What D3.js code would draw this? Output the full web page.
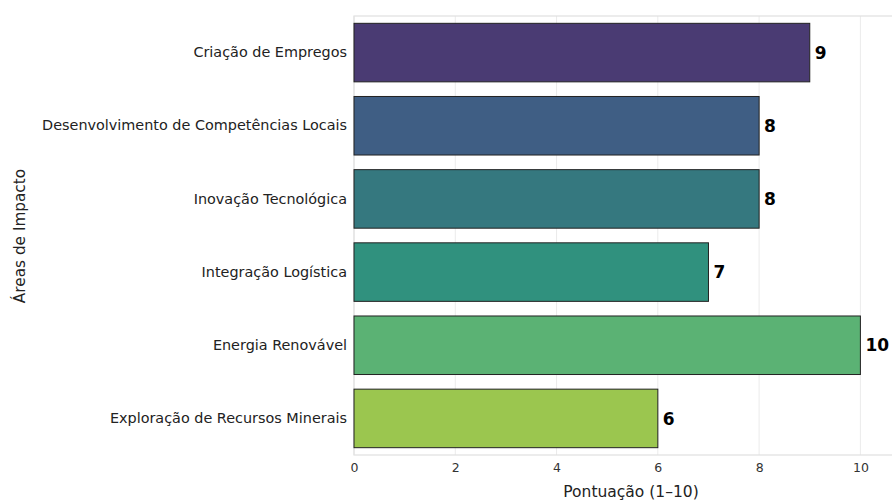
<!DOCTYPE html>
<html><head><meta charset="utf-8">
<script src="https://cdn.jsdelivr.net/npm/d3@7"></script>
<style>body{margin:0;background:#fff}svg{display:block}</style>
</head><body>
<svg id="c" width="892" height="501"></svg>
<script>
const categories = ["Criação de Empregos","Desenvolvimento de Competências Locais","Inovação Tecnológica","Integração Logística","Energia Renovável","Exploração de Recursos Minerais"];
const values = [9, 8, 8, 7, 10, 6];
const colors = ["#4a3b73","#3f5e84","#35787f","#30917e","#5bb274","#9bc64f"];
const xTicks = [0, 2, 4, 6, 8, 10];

const svg = d3.select("#c");
const L = 354, R = 908, T = 16, B = 455;
const x = d3.scaleLinear().domain([0, 10.94]).range([L, R]);
const y = d3.scaleBand().domain(categories).range([T, B]).paddingInner(0.2).paddingOuter(0.1);
const font = "DejaVu Sans, sans-serif";

// grid
svg.append("g").selectAll("line").data(xTicks).join("line")
  .attr("x1", d => x(d)).attr("x2", d => x(d)).attr("y1", T).attr("y2", B)
  .attr("stroke", "#ebebeb").attr("stroke-width", 1);
// frame
svg.append("rect").attr("x", L).attr("y", T).attr("width", R - L).attr("height", B - T)
  .attr("fill", "none").attr("stroke", "#e0e0e0").attr("stroke-width", 1.2);

// bars
svg.append("g").selectAll("rect").data(categories).join("rect")
  .attr("x", x(0)).attr("y", d => y(d))
  .attr("width", (d, i) => x(values[i]) - x(0)).attr("height", y.bandwidth())
  .attr("fill", (d, i) => colors[i]).attr("stroke", "#222").attr("stroke-width", 1);

// value labels
svg.append("g").selectAll("text").data(categories).join("text")
  .attr("x", (d, i) => x(values[i]) + 5).attr("y", d => y(d) + y.bandwidth() / 2)
  .attr("dy", "0.36em").attr("font-family", font).attr("font-weight", "bold")
  .attr("font-size", 17).attr("fill", "#000").text((d, i) => values[i]);

// x axis
const xAxis = d3.axisBottom(x).tickValues(xTicks).tickSize(0).tickPadding(8);
const gx = svg.append("g").attr("transform", `translate(0,${B})`).call(xAxis);
gx.select(".domain").remove();
gx.selectAll("text").attr("font-family", font).attr("font-size", 12.5).attr("fill", "#333");

// y axis
const yAxis = d3.axisLeft(y).tickSize(0).tickPadding(7);
const gy = svg.append("g").attr("transform", `translate(${L},0)`).call(yAxis);
gy.select(".domain").remove();
gy.selectAll("text").attr("font-family", font).attr("font-size", 14.4).attr("fill", "#222");

// axis titles
svg.append("text").attr("x", (L + R) / 2).attr("y", 497).attr("text-anchor", "middle")
  .attr("font-family", font).attr("font-size", 15.5).attr("fill", "#222").text("Pontuação (1–10)");
svg.append("text").attr("transform", `translate(25,236) rotate(-90)`).attr("text-anchor", "middle")
  .attr("font-family", font).attr("font-size", 15.3).attr("fill", "#222").text("Áreas de Impacto");
</script>
</body></html>
